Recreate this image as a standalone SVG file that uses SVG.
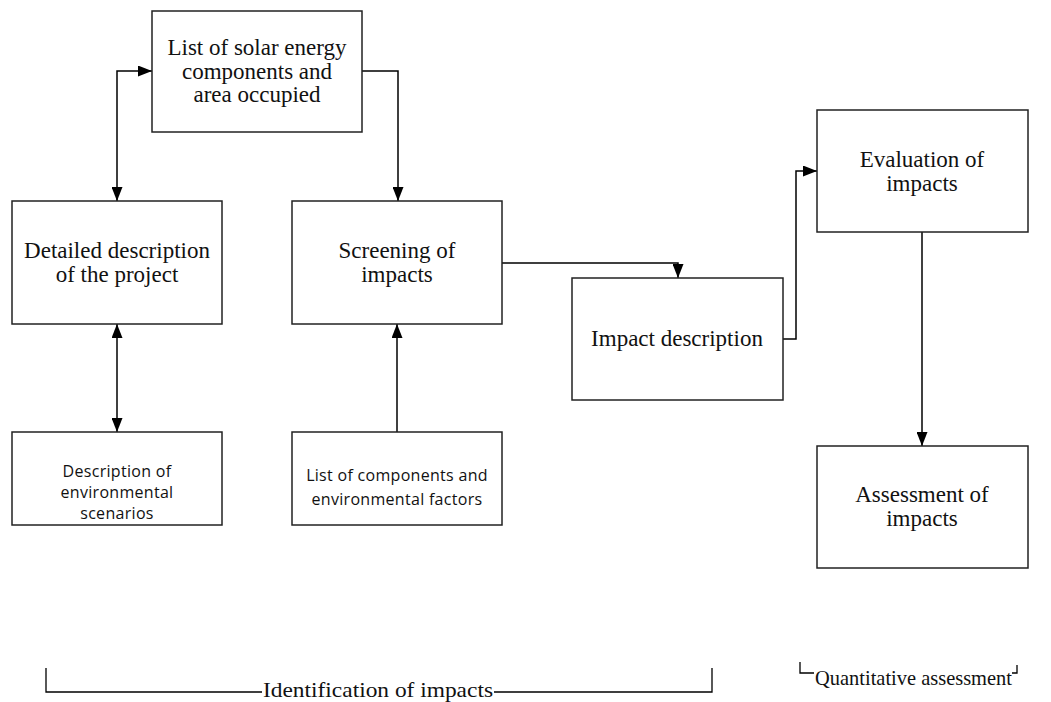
<svg xmlns="http://www.w3.org/2000/svg" width="1051" height="702" viewBox="0 0 1051 702">
  <style>
    .box { fill: #ffffff; stroke: #222222; stroke-width: 1.5; }
    .serif { font-family: "Liberation Serif", "Times New Roman", serif; font-size: 23px; fill: #111111; text-anchor: middle; }
    .sans { font-family: "Open Sans", "DejaVu Sans", sans-serif; font-size: 16px; fill: #111111; text-anchor: middle; letter-spacing: 0.3px; }
    .wire { fill: none; stroke: #000000; stroke-width: 1.5; }
    .brace { fill: none; stroke: #000000; stroke-width: 1.3; }
    .label { font-family: "Liberation Serif", "Times New Roman", serif; font-size: 21px; fill: #111111; }
  </style>
  <defs>
    <marker id="head" viewBox="0 0 14 11" refX="14" refY="5.5" markerWidth="14" markerHeight="11" markerUnits="userSpaceOnUse" orient="auto-start-reverse">
      <path d="M0,0 L14,5.5 L0,11 z" fill="#000000"/>
    </marker>
  </defs>
  <rect width="1051" height="702" fill="#ffffff"/>

  <!-- connectors -->
  <g id="connectors">
    <path class="wire" d="M117,201 V71 H152" marker-start="url(#head)" marker-end="url(#head)"/>
    <path class="wire" d="M362,71 H398 V201" marker-end="url(#head)"/>
    <path class="wire" d="M117,324 V432" marker-start="url(#head)" marker-end="url(#head)"/>
    <path class="wire" d="M397,432 V324" marker-end="url(#head)"/>
    <path class="wire" d="M502,263 H678 V278" marker-end="url(#head)"/>
    <path class="wire" d="M783,339 H796 V171 H817" marker-end="url(#head)"/>
    <path class="wire" d="M922,232 V446" marker-end="url(#head)"/>
  </g>

  <g id="solar-components">
    <rect class="box" x="152" y="11" width="210" height="121"/>
    <text class="serif" x="257" y="55">List of solar energy</text>
    <text class="serif" x="257" y="79">components and</text>
    <text class="serif" x="257" y="102">area occupied</text>
  </g>

  <g id="project-description">
    <rect class="box" x="12" y="201" width="210" height="123"/>
    <text class="serif" x="117" y="258">Detailed description</text>
    <text class="serif" x="117" y="282">of the project</text>
  </g>

  <g id="screening">
    <rect class="box" x="292" y="201" width="210" height="123"/>
    <text class="serif" x="397" y="258">Screening of</text>
    <text class="serif" x="397" y="282">impacts</text>
  </g>

  <g id="env-scenarios">
    <rect class="box" x="12" y="432" width="210" height="93"/>
    <text class="sans" x="117" y="477">Description of</text>
    <text class="sans" x="117" y="498">environmental</text>
    <text class="sans" x="117" y="519">scenarios</text>
  </g>

  <g id="env-factors">
    <rect class="box" x="292" y="432" width="210" height="93"/>
    <text class="sans" x="397" y="481">List of components and</text>
    <text class="sans" x="397" y="505">environmental factors</text>
  </g>

  <g id="impact-description">
    <rect class="box" x="572" y="278" width="211" height="122"/>
    <text class="serif" x="677" y="346">Impact description</text>
  </g>

  <g id="evaluation">
    <rect class="box" x="817" y="110" width="211" height="122"/>
    <text class="serif" x="922" y="167">Evaluation of</text>
    <text class="serif" x="922" y="191">impacts</text>
  </g>

  <g id="assessment">
    <rect class="box" x="817" y="446" width="211" height="122"/>
    <text class="serif" x="922" y="502">Assessment of</text>
    <text class="serif" x="922" y="526">impacts</text>
  </g>

  <!-- phase brackets along the bottom -->
  <g id="identification-bracket">
    <path class="brace" d="M46,668 V692 H262"/>
    <path class="brace" d="M494,692 H712 V668"/>
    <text class="label" x="263" y="697" textLength="230" lengthAdjust="spacingAndGlyphs">Identification of impacts</text>
  </g>

  <g id="quantitative-bracket">
    <path class="brace" d="M800,662 V673 H814"/>
    <path class="brace" d="M1012,673 H1017 V665"/>
    <text class="label" x="815" y="685" textLength="197" lengthAdjust="spacingAndGlyphs">Quantitative assessment</text>
  </g>
</svg>
